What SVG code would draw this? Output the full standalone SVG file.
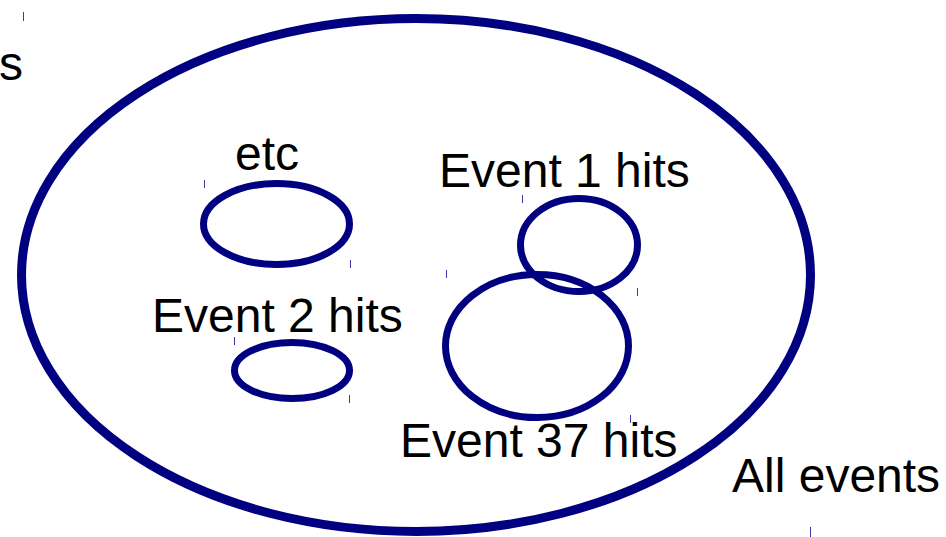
<svg xmlns="http://www.w3.org/2000/svg" width="946" height="537" viewBox="0 0 946 537">
<style>
.set{fill:none;stroke:#000080;stroke-width:7}
.big{stroke-width:9}
.tick{stroke:#3a3aa8;stroke-width:1}
text{font-family:"Liberation Sans",Arial,sans-serif;font-size:48px;fill:#000}
</style>
<rect width="946" height="537" fill="#fff"/>
<g id="all-events">
<ellipse class="set big" cx="416" cy="275" rx="394.5" ry="256.5"/>
<line class="tick" x1="23.5" y1="12" x2="23.5" y2="21"/>
<line class="tick" x1="810.5" y1="527" x2="810.5" y2="537"/>
<text x="732" y="492">All events</text>
</g>
<g id="s-label"><text x="-1" y="80">s</text></g>
<g id="etc">
<ellipse class="set" cx="276.5" cy="224" rx="73" ry="40.5"/>
<line class="tick" x1="204.5" y1="180" x2="204.5" y2="188"/>
<line class="tick" x1="350.5" y1="260" x2="350.5" y2="268"/>
<text x="235" y="170">etc</text>
</g>
<g id="event2">
<ellipse class="set" cx="292" cy="370.5" rx="57.5" ry="28"/>
<line class="tick" x1="234.5" y1="337" x2="234.5" y2="345"/>
<line class="tick" x1="349.5" y1="395" x2="349.5" y2="403"/>
<text x="152" y="332">Event 2 hits</text>
</g>
<g id="event1">
<ellipse class="set" cx="579" cy="245" rx="58.5" ry="46.5"/>
<line class="tick" x1="522.5" y1="195" x2="522.5" y2="203"/>
<line class="tick" x1="637.5" y1="288" x2="637.5" y2="296"/>
<text x="439" y="187">Event 1 hits</text>
</g>
<g id="event37">
<ellipse class="set" cx="537" cy="346" rx="91.5" ry="71.5"/>
<line class="tick" x1="446.5" y1="270" x2="446.5" y2="278"/>
<line class="tick" x1="630.5" y1="415" x2="630.5" y2="423"/>
<text x="400" y="457">Event 37 hits</text>
</g>
<g id="connectors"/>
</svg>
